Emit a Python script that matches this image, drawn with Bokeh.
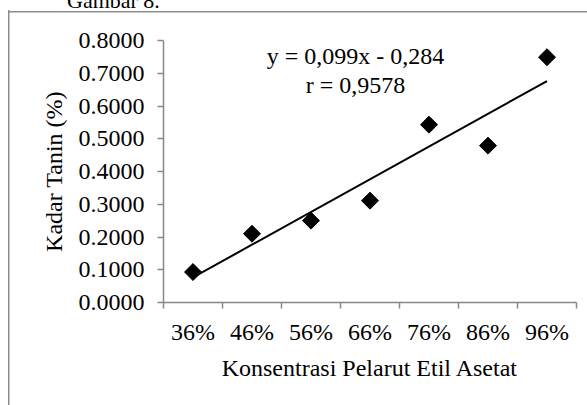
import numpy as np
from bokeh.plotting import figure
from bokeh.layouts import column
from bokeh.models import (Range1d, FixedTicker, NumeralTickFormatter, Label,
                          ColumnDataSource, Div)
from bokeh.embed import file_html
from bokeh.resources import INLINE

# ---- data ----
x_labels = ["36%", "46%", "56%", "66%", "76%", "86%", "96%"]
kadar_tanin = [0.093, 0.210, 0.250, 0.311, 0.543, 0.479, 0.749]
y_ticks = [0.0, 0.1, 0.2, 0.3, 0.4, 0.5, 0.6, 0.7, 0.8]
equation_text = "y = 0,099x - 0,284"
r_text = "r = 0,9578"
caption_text = "Gambar 8."
x_title = "Konsentrasi Pelarut Etil Asetat"
y_title = "Kadar Tanin (%)"

xpos = list(range(1, len(x_labels) + 1))
FONT = "Liberation Serif"
FS = "24px"
AX = "#888888"
BORDER = "#8c8c8c"

CAP_H = 10
W, H = 587, 405 - CAP_H
FL, FR, FT, FB = 163, 11, 40 - CAP_H, 103   # frame borders

p = figure(width=W, height=H, output_backend="svg", toolbar_location=None,
           x_range=Range1d(0.5, len(x_labels) + 0.5), y_range=Range1d(0, 0.8),
           min_border_left=FL, min_border_right=FR, min_border_top=FT,
           min_border_bottom=FB)
p.background_fill_color = "white"
p.border_fill_color = None
p.outline_line_color = None
p.xgrid.visible = False
p.ygrid.visible = False
p.styles = {
    "background": (f"linear-gradient({BORDER}, {BORDER}) 8px 0px / 1.5px 100% no-repeat, "
                   f"linear-gradient({BORDER}, {BORDER}) 8px 0.5px / 100% 1.5px no-repeat, "
                   "#ffffff"),
}

# scatter + trend line
src = ColumnDataSource(dict(x=xpos, y=kadar_tanin))
p.scatter("x", "y", source=src, marker="square", angle=np.pi / 4, size=12,
          fill_color="black", line_color="black")
slope, intercept = np.polyfit(xpos, kadar_tanin, 1)
tx = np.array([xpos[0], xpos[-1]], dtype=float)
p.line(tx, slope * tx + intercept, line_color="black", line_width=2)

# axes
xa = p.xaxis[0]
xa.ticker = FixedTicker(ticks=xpos, minor_ticks=[v - 0.5 for v in xpos] + [xpos[-1] + 0.5])
xa.major_label_overrides = {v: lab for v, lab in zip(xpos, x_labels)}
xa.major_tick_line_color = None
xa.major_tick_out = 6
xa.major_tick_in = 0
xa.minor_tick_out = 6
xa.minor_tick_in = 0
xa.minor_tick_line_color = AX
xa.minor_tick_line_width = 1.5
xa.major_label_standoff = 10
xa.axis_label = x_title
xa.axis_label_standoff = 7

ya = p.yaxis[0]
ya.ticker = FixedTicker(ticks=y_ticks, minor_ticks=[])
ya.formatter = NumeralTickFormatter(format="0.0000")
ya.major_tick_out = 6
ya.major_tick_in = 0
ya.major_tick_line_color = AX
ya.major_tick_line_width = 1.5
ya.major_label_standoff = 13
ya.axis_label = y_title
ya.axis_label_standoff = 9

for ax in (xa, ya):
    ax.axis_line_color = AX
    ax.axis_line_width = 1.5
    ax.major_label_text_font = FONT
    ax.major_label_text_font_size = FS
    ax.major_label_text_color = "black"
    ax.axis_label_text_font = FONT
    ax.axis_label_text_font_size = FS
    ax.axis_label_text_font_style = "normal"
    ax.axis_label_text_color = "black"

# equation labels
for txt, yy in ((equation_text, 0.7527), (r_text, 0.6626)):
    p.add_layout(Label(x=3.755, y=yy, text=txt, text_align="center",
                       text_baseline="middle", text_font=FONT,
                       text_font_size=FS, text_color="black"))

# cut-off caption strip above the bordered chart
cap = Div(text=(f'<div style="position:relative; top:-10px; left:67px; '
                f"font-family:'Liberation Serif'; font-size:22px; line-height:22px; "
                f'white-space:nowrap; color:#000;">{caption_text}</div>'),
          width=W, height=CAP_H, margin=0,
          styles={"overflow": "hidden", "background": "#ffffff"})

layout = column(cap, p, spacing=0)
open("out.html", "w").write(file_html(layout, INLINE))
